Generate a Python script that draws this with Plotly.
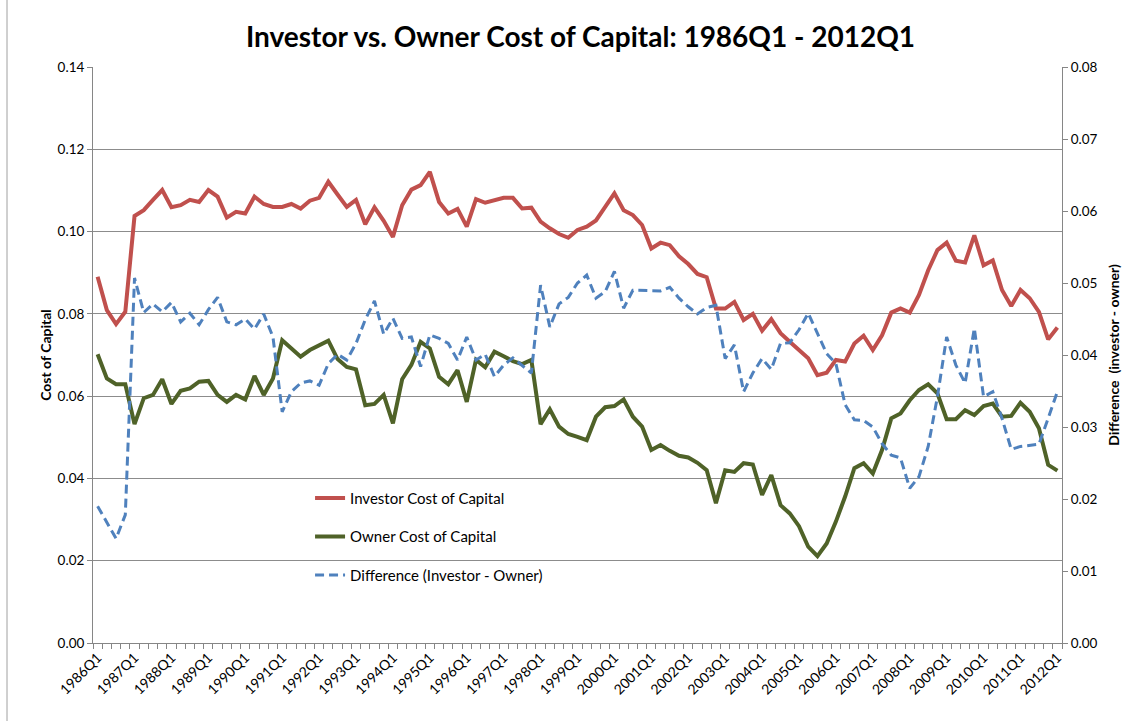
import plotly.graph_objects as go

# Quarter categories 1986Q1 .. 2012Q1
quarters = [f"{y}Q{q}" for y in range(1986, 2013) for q in range(1, 5)][:105]
tick_text = [q if q.endswith("Q1") else "" for q in quarters]

investor = [
    0.0890, 0.0809, 0.0775, 0.0805, 0.1038, 0.1052, 0.1077, 0.1101, 0.1059, 0.1064,
    0.1077, 0.1072, 0.1101, 0.1085, 0.1034, 0.1048, 0.1044, 0.1085, 0.1067, 0.1060,
    0.1060, 0.1067, 0.1056, 0.1075, 0.1082, 0.1121, 0.1090, 0.1060, 0.1077, 0.1018,
    0.1059, 0.1026, 0.0987, 0.1064, 0.1102, 0.1113, 0.1145, 0.1072, 0.1044, 0.1055,
    0.1012, 0.1079, 0.1070, 0.1077, 0.1082, 0.1082, 0.1056, 0.1058, 0.1024, 0.1008,
    0.0994, 0.0985, 0.1004, 0.1012, 0.1027, 0.1060, 0.1093, 0.1052, 0.1040, 0.1016,
    0.0959, 0.0973, 0.0967, 0.0940, 0.0921, 0.0897, 0.0889, 0.0813, 0.0813, 0.0829,
    0.0785, 0.0800, 0.0759, 0.0787, 0.0753, 0.0732, 0.0712, 0.0692, 0.0651, 0.0657,
    0.0688, 0.0684, 0.0728, 0.0747, 0.0712, 0.0748, 0.0803, 0.0813, 0.0803, 0.0846,
    0.0906, 0.0955, 0.0973, 0.0929, 0.0925, 0.0991, 0.0918, 0.0930, 0.0858, 0.0819,
    0.0858, 0.0838, 0.0805, 0.0738, 0.0767,
]

owner = [
    0.0702, 0.0643, 0.0629, 0.0629, 0.0532, 0.0595, 0.0603, 0.0641, 0.0581, 0.0613,
    0.0619, 0.0635, 0.0637, 0.0603, 0.0586, 0.0603, 0.0592, 0.0649, 0.0603, 0.0643,
    0.0736, 0.0716, 0.0696, 0.0712, 0.0724, 0.0735, 0.0690, 0.0671, 0.0665, 0.0578,
    0.0581, 0.0603, 0.0534, 0.0641, 0.0676, 0.0732, 0.0716, 0.0647, 0.0629, 0.0663,
    0.0586, 0.0688, 0.0670, 0.0708, 0.0697, 0.0685, 0.0678, 0.0688, 0.0532, 0.0568,
    0.0526, 0.0508, 0.0501, 0.0493, 0.0550, 0.0573, 0.0576, 0.0592, 0.0550, 0.0526,
    0.0469, 0.0481, 0.0467, 0.0455, 0.0451, 0.0438, 0.0420, 0.0340, 0.0420, 0.0416,
    0.0437, 0.0434, 0.0360, 0.0408, 0.0335, 0.0315, 0.0284, 0.0234, 0.0211, 0.0242,
    0.0295, 0.0356, 0.0425, 0.0437, 0.0412, 0.0469, 0.0546, 0.0558, 0.0590, 0.0615,
    0.0629, 0.0607, 0.0544, 0.0544, 0.0566, 0.0554, 0.0576, 0.0582, 0.0550, 0.0552,
    0.0584, 0.0562, 0.0522, 0.0433, 0.0419,
]

difference = [
    0.0190, 0.0168, 0.0145, 0.0178, 0.0507, 0.0459, 0.0471, 0.0460, 0.0473, 0.0446,
    0.0458, 0.0442, 0.0463, 0.0480, 0.0446, 0.0442, 0.0450, 0.0436, 0.0457, 0.0425,
    0.0321, 0.0349, 0.0361, 0.0364, 0.0358, 0.0388, 0.0401, 0.0393, 0.0416, 0.0449,
    0.0475, 0.0429, 0.0451, 0.0423, 0.0425, 0.0384, 0.0428, 0.0423, 0.0416, 0.0393,
    0.0425, 0.0393, 0.0401, 0.0370, 0.0386, 0.0396, 0.0386, 0.0375, 0.0497, 0.0439,
    0.0471, 0.0480, 0.0500, 0.0511, 0.0479, 0.0488, 0.0516, 0.0465, 0.0490, 0.0490,
    0.0489, 0.0489, 0.0494, 0.0479, 0.0467, 0.0457, 0.0466, 0.0469, 0.0395, 0.0414,
    0.0349, 0.0375, 0.0395, 0.0380, 0.0416, 0.0417, 0.0435, 0.0458, 0.0430, 0.0402,
    0.0388, 0.0331, 0.0310, 0.0309, 0.0300, 0.0277, 0.0261, 0.0257, 0.0215, 0.0231,
    0.0273, 0.0342, 0.0425, 0.0386, 0.0361, 0.0437, 0.0342, 0.0349, 0.0312, 0.0269,
    0.0273, 0.0275, 0.0276, 0.0312, 0.0349,
]

FONT = "Lato, Calibri, Carlito, sans-serif"
AXIS_GRAY = "#868686"

fig = go.Figure()
fig.add_trace(go.Scatter(
    x=quarters, y=investor, name="Investor Cost of Capital", mode="lines",
    line=dict(color="#C0504D", width=4), legendgroup="a", yaxis="y",
))
fig.add_trace(go.Scatter(
    x=quarters, y=owner, name="Owner Cost of Capital", mode="lines",
    line=dict(color="#4F6228", width=4), legendgroup="b", yaxis="y",
))
fig.add_trace(go.Scatter(
    x=quarters, y=difference, name="Difference (Investor - Owner)", mode="lines",
    line=dict(color="#4F81BD", width=3, dash="9px,5px"), legendgroup="c", yaxis="y2",
))

fig.update_layout(
    width=1145, height=721,
    paper_bgcolor="white", plot_bgcolor="white",
    margin=dict(l=93, r=83, t=67, b=78, autoexpand=False),
    font=dict(family=FONT, size=13.5, color="#000000"),
    title=dict(
        text="<b>Investor vs. Owner Cost of Capital: 1986Q1 - 2012Q1</b>",
        x=0.507, xanchor="center", y=1 - 37 / 721, yanchor="middle",
        font=dict(family=FONT, size=28, color="#000000"),
    ),
    xaxis=dict(
        type="category", tickmode="array", tickvals=quarters, ticktext=tick_text,
        tickangle=-45, tickson="boundaries", ticks="outside", ticklen=5,
        tickcolor=AXIS_GRAY, showline=True, linecolor=AXIS_GRAY, linewidth=1,
        showgrid=False, range=[-0.5, 104.5], tickfont=dict(size=14),
        automargin=False,
    ),
    yaxis=dict(
        range=[0, 0.14], dtick=0.02, tickformat=".2f", showgrid=True,
        gridcolor="#8C8C8C", gridwidth=1, showline=True, linecolor=AXIS_GRAY,
        ticks="outside", ticklen=5, tickcolor=AXIS_GRAY, zeroline=False,
        automargin=False,
        title=dict(text="<b>Cost of Capital</b>", font=dict(size=14), standoff=2),
    ),
    yaxis2=dict(
        overlaying="y", side="right", range=[0, 0.08], dtick=0.01, tickformat=".2f",
        showgrid=False, showline=True, linecolor=AXIS_GRAY, ticks="outside",
        ticklen=5, tickcolor=AXIS_GRAY, zeroline=False, automargin=False,
        title=dict(text="<b>Difference  (investor - owner)</b>", font=dict(size=14), standoff=12),
    ),
    legend=dict(
        x=0.224, y=0.28, xanchor="left", yanchor="top",
        bgcolor="rgba(0,0,0,0)", font=dict(size=15), tracegroupgap=16,
    ),
    shapes=[dict(
        type="line", xref="paper", yref="paper",
        x0=(7 - 93) / 969, x1=(7 - 93) / 969, y0=-78 / 576, y1=1 + 67 / 576,
        line=dict(color="#A0A0A0", width=1),
    )],
)

fig.write_html(
    "out.html",
    config={"displayModeBar": False},
    post_script="document.body.style.margin='0px';",
)
